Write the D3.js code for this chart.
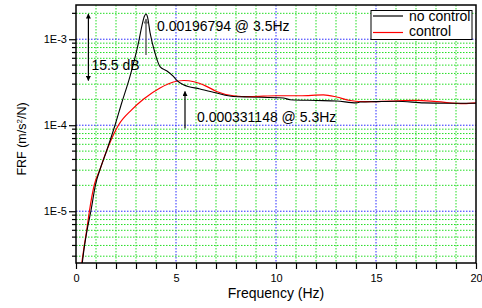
<!DOCTYPE html>
<html>
<head>
<meta charset="utf-8">
<script src="https://cdn.jsdelivr.net/npm/d3@7"></script>
<style>
  body { margin: 0; background: #fff; }
  svg { display: block; font-family: "Liberation Sans", Arial, sans-serif; }
</style>
</head>
<body>
<svg width="482" height="308"></svg>
<script>
// FRF without control (black)
var freqNo = [0.3, 0.4, 0.53, 0.75, 0.98, 1.2, 1.5, 1.95, 2.28, 2.7, 3.12, 3.3, 3.42, 3.5, 3.58, 3.7, 3.95, 4.2, 4.53, 4.87, 5.03, 5.37, 6.2, 7.03, 7.87, 8.7, 10.37, 10.7, 12.03, 13.03, 14.03, 14.2, 15, 16, 17.4, 18.5, 20];
var frfNo = [2.35e-6, 3.6e-6, 5.6e-6, 1.02e-5, 2.05e-5, 3.06e-5, 4.8e-5, 1.0e-4, 1.8e-4, 3.7e-4, 9.0e-4, 1.45e-3, 1.85e-3, 1.968e-3, 1.8e-3, 1.2e-3, 6.9e-4, 4.8e-4, 4.3e-4, 3.7e-4, 3.35e-4, 2.95e-4, 2.64e-4, 2.37e-4, 2.16e-4, 2.13e-4, 2.07e-4, 1.98e-4, 1.94e-4, 1.91e-4, 1.82e-4, 1.86e-4, 1.88e-4, 1.9e-4, 1.82e-4, 1.8e-4, 1.8e-4];

// FRF with control (red)
var freqCtl = [0.28, 0.4, 0.53, 0.67, 0.92, 1.2, 1.45, 1.7, 2.12, 2.78, 3.4, 4.2, 4.87, 5.4, 5.9, 6.5, 7.03, 7.87, 8.7, 10.03, 11.2, 12.37, 13.03, 13.7, 14.5, 15.7, 17.03, 18.03, 19.4, 20];
var frfCtl = [2.4e-6, 3.8e-6, 5.9e-6, 1.0e-5, 2.05e-5, 3.06e-5, 4.5e-5, 6.3e-5, 1.0e-4, 1.51e-4, 2.03e-4, 2.71e-4, 3.18e-4, 3.31e-4, 3.2e-4, 2.85e-4, 2.47e-4, 2.2e-4, 2.15e-4, 2.2e-4, 2.2e-4, 2.25e-4, 2.13e-4, 1.94e-4, 1.88e-4, 1.91e-4, 1.94e-4, 1.88e-4, 1.78e-4, 1.82e-4];

var xTickLabels = [0, 5, 10, 15, 20];
var yTickValues = [1e-5, 1e-4, 1e-3];
var yTickLabels = ["1E-5", "1E-4", "1E-3"];
var seriesNames = ["no control", "control"];
var seriesColors = ["#000", "#f00"];

var peakNo = { f: 3.5, v: 1.968e-3, label: "0.00196794 @ 3.5Hz" };
var peakCtl = { f: 5.3, v: 3.31e-4, label: "0.000331148 @ 5.3Hz" };
var reductionLabel = "15.5 dB";

var svg = d3.select("svg");
var m = { left: 76, right: 476, top: 5, bottom: 263 };

var x = d3.scaleLinear().domain([0, 20]).range([m.left, m.right]);
var y = d3.scaleLog().domain([2.5e-6, 2.5e-3]).range([m.bottom, m.top]);

// grid
var minorY = [];
[1e-6, 1e-5, 1e-4, 1e-3].forEach(function(d) {
  for (var k = 2; k <= 9; k++) {
    var v = d * k;
    if (v > 2.5e-6 && v < 2.5e-3) minorY.push(v);
  }
});
var grid = svg.append("g");
grid.selectAll(".vx").data(d3.range(1, 20)).enter().append("line")
  .attr("x1", d => x(d)).attr("x2", d => x(d))
  .attr("y1", m.top).attr("y2", m.bottom)
  .attr("stroke", d => d % 5 === 0 ? "#2a2aff" : "#22dd22")
  .attr("stroke-dasharray", "1.5,1.5");
grid.selectAll(".hy").data(minorY).enter().append("line")
  .attr("x1", m.left).attr("x2", m.right)
  .attr("y1", d => y(d)).attr("y2", d => y(d))
  .attr("stroke", "#22dd22")
  .attr("stroke-dasharray", "1.5,1.5");
grid.selectAll(".hmaj").data(yTickValues).enter().append("line")
  .attr("x1", m.left).attr("x2", m.right)
  .attr("y1", d => y(d)).attr("y2", d => y(d))
  .attr("stroke", "#2a2aff")
  .attr("stroke-dasharray", "1.5,1.5");

// curves
svg.append("clipPath").attr("id", "clip").append("rect")
  .attr("x", m.left).attr("y", m.top).attr("width", m.right - m.left).attr("height", m.bottom - m.top);

var line = d3.line().x(d => x(d[0])).y(d => y(d[1])).curve(d3.curveMonotoneX);
var plot = svg.append("g").attr("clip-path", "url(#clip)");
plot.append("path").datum(d3.zip(freqCtl, frfCtl))
  .attr("d", line).attr("fill", "none").attr("stroke", seriesColors[1]).attr("stroke-width", 1.2);
plot.append("path").datum(d3.zip(freqNo, frfNo))
  .attr("d", line).attr("fill", "none").attr("stroke", seriesColors[0]).attr("stroke-width", 1.1);

// axes
var xAxis = svg.append("g").attr("transform", "translate(0," + m.bottom + ")")
  .call(d3.axisBottom(x).tickValues(d3.range(0, 21)).tickSize(6)
    .tickFormat(d => xTickLabels.indexOf(d) >= 0 ? d : ""));
xAxis.select(".domain").remove();
xAxis.selectAll("line").attr("stroke-width", 1.2);
xAxis.selectAll("text").attr("font-size", 11).attr("font-family", "Liberation Sans, Arial").attr("dy", "0.9em").attr("fill", "#000");

var yAxis = svg.append("g").attr("transform", "translate(" + m.left + ",0)")
  .call(d3.axisLeft(y).tickValues(yTickValues).tickSize(7)
    .tickFormat((d, i) => yTickLabels[i]));
yAxis.select(".domain").remove();
yAxis.selectAll("line").attr("stroke-width", 1.2);
yAxis.selectAll("text").attr("font-size", 11).attr("font-family", "Liberation Sans, Arial").attr("x", -9).attr("fill", "#000");
yAxis.selectAll(".minor").data(minorY).enter().append("line")
  .attr("x1", -4).attr("x2", 0)
  .attr("y1", d => y(d)).attr("y2", d => y(d))
  .attr("stroke", "#000").attr("stroke-width", 1.2);

// frame
svg.append("rect").attr("x", m.left).attr("y", m.top)
  .attr("width", m.right - m.left).attr("height", m.bottom - m.top)
  .attr("fill", "none").attr("stroke", "#000").attr("stroke-width", 1.5);

// axis titles
svg.append("text").attr("x", (m.left + m.right) / 2).attr("y", 298)
  .attr("text-anchor", "middle").attr("font-size", 14).text("Frequency (Hz)");
var yt = svg.append("text").attr("transform", "translate(26,139) rotate(-90)")
  .attr("text-anchor", "middle").attr("font-size", 12.5);
yt.append("tspan").text("FRF (m/s");
yt.append("tspan").attr("baseline-shift", "super").attr("font-size", 8).text("2");
yt.append("tspan").text("/N)");

// arrows
var defs = svg.append("defs");
function marker(id, color) {
  defs.append("marker").attr("id", id)
    .attr("viewBox", "0 0 10 10").attr("refX", 9).attr("refY", 5)
    .attr("markerWidth", 8).attr("markerHeight", 5)
    .attr("markerUnits", "userSpaceOnUse").attr("orient", "auto-start-reverse")
    .append("path").attr("d", "M0,0L10,5L0,10Z").attr("fill", color);
}
marker("headBlack", "#000");
marker("headGray", "#666");

// 15.5 dB double arrow between the two peaks
svg.append("line")
  .attr("x1", x(0.62)).attr("x2", x(0.62))
  .attr("y1", y(peakCtl.v)).attr("y2", y(peakNo.v))
  .attr("stroke", "#000").attr("stroke-width", 1.2)
  .attr("marker-start", "url(#headBlack)").attr("marker-end", "url(#headBlack)");
svg.append("text").attr("x", x(0.62) + 3).attr("y", 70)
  .attr("font-size", 14).text(reductionLabel);

// peak arrow (no control)
svg.append("line")
  .attr("x1", x(peakNo.f)).attr("x2", x(peakNo.f))
  .attr("y1", y(peakNo.v) + 41).attr("y2", y(peakNo.v) + 5)
  .attr("stroke", "#666").attr("stroke-width", 1.5)
  .attr("marker-end", "url(#headGray)");
svg.append("text").attr("x", x(peakNo.f) + 11).attr("y", y(peakNo.v) + 17.5)
  .attr("font-size", 14).text(peakNo.label);

// peak arrow (control)
svg.append("line")
  .attr("x1", x(5.45)).attr("x2", x(5.45))
  .attr("y1", y(peakCtl.v) + 48).attr("y2", y(peakCtl.v) + 11)
  .attr("stroke", "#000").attr("stroke-width", 1.2)
  .attr("marker-end", "url(#headBlack)");
svg.append("text").attr("x", x(5.45) + 12).attr("y", y(peakCtl.v) + 41)
  .attr("font-size", 14).text(peakCtl.label);

// legend
var lg = svg.append("g").attr("transform", "translate(371,10.5)");
lg.append("rect").attr("width", 101).attr("height", 29)
  .attr("fill", "#fff").attr("stroke", "#000").attr("stroke-width", 1);
seriesNames.forEach(function(name, i) {
  lg.append("line").attr("x1", 2).attr("x2", 32)
    .attr("y1", 5.5 + i * 16.5).attr("y2", 5.5 + i * 16.5)
    .attr("stroke", seriesColors[i]).attr("stroke-width", 1.2);
  lg.append("text").attr("x", 38).attr("y", 10.3 + i * 15.2)
    .attr("font-size", 14).text(name);
});
</script>
</body>
</html>
